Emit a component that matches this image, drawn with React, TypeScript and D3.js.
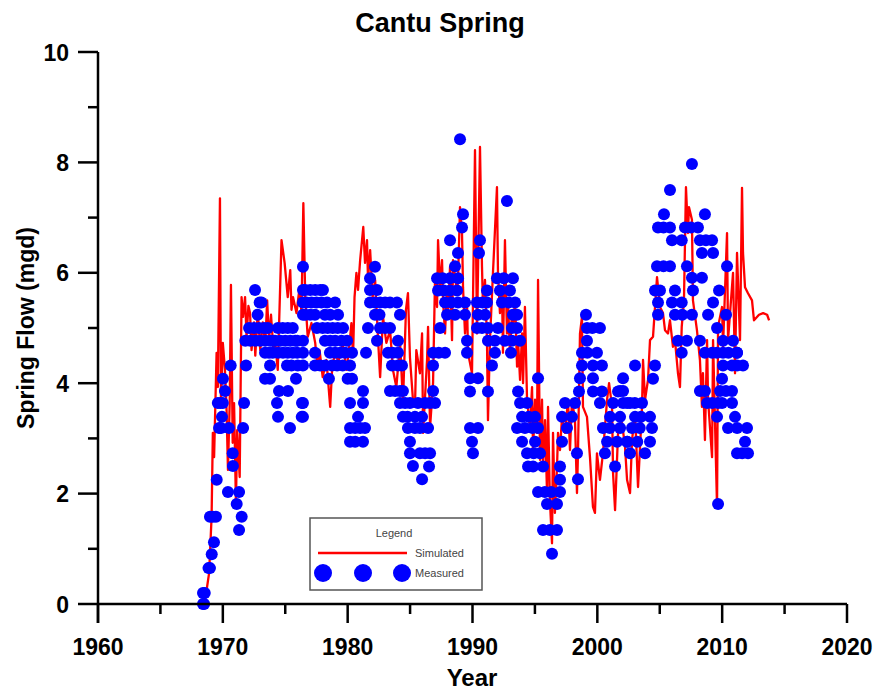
import React from "react";
import * as d3 from "d3";

const xTickLabels = ["1960", "1970", "1980", "1990", "2000", "2010", "2020"];
const yTickLabels = ["0", "2", "4", "6", "8", "10"];

const simYears = [
  1968.41, 1968.6, 1968.9, 1969.1, 1969.2, 1969.3, 1969.5, 1969.6, 1969.77, 1969.85, 1970.0, 1970.17, 1970.3, 1970.41,
  1970.55, 1970.65, 1970.79, 1970.9, 1971.05, 1971.15, 1971.35, 1971.5, 1971.62, 1971.78, 1971.9, 1972.05, 1972.18,
  1972.3, 1972.5, 1972.6, 1972.8, 1973.0, 1973.2, 1973.4, 1973.55, 1973.7, 1973.86, 1974.05, 1974.2, 1974.4, 1974.7,
  1974.95, 1975.2, 1975.4, 1975.5, 1975.62, 1975.9, 1976.15, 1976.3, 1976.45, 1976.6, 1976.8, 1977.1, 1977.4,
  1977.6, 1977.75, 1978.0, 1978.3, 1978.6, 1978.75, 1979.0, 1979.25, 1979.6, 1979.9, 1980.1, 1980.3, 1980.43, 1980.55,
  1980.7, 1980.83, 1981.0, 1981.25, 1981.39, 1981.55, 1981.63, 1981.8, 1982.0, 1982.2, 1982.45, 1982.6, 1982.83,
  1983.1, 1983.4, 1983.63, 1983.9, 1984.2, 1984.43, 1984.67, 1984.83, 1984.99, 1985.1, 1985.23, 1985.4, 1985.5,
  1985.79, 1985.96, 1986.04, 1986.36, 1986.44, 1986.6, 1986.84, 1987.0, 1987.16, 1987.24, 1987.4, 1987.56, 1987.64,
  1987.8, 1987.96, 1988.04, 1988.2, 1988.36, 1988.44, 1988.76, 1988.84, 1989.0, 1989.16, 1989.24, 1989.4, 1989.56,
  1989.64, 1989.96, 1990.04, 1990.2, 1990.36, 1990.6, 1990.76, 1990.84, 1991.0, 1991.16, 1991.24, 1991.4, 1991.64,
  1991.96, 1992.04, 1992.2, 1992.36, 1992.44, 1992.6, 1992.76, 1992.84, 1993.0, 1993.16, 1993.24, 1993.41, 1993.57,
  1993.65, 1993.81, 1993.97, 1994.05, 1994.2, 1994.37, 1994.6, 1994.77, 1994.85, 1995.01, 1995.17, 1995.25, 1995.41,
  1995.57, 1995.65, 1995.81, 1995.97, 1996.05, 1996.2, 1996.37, 1996.45, 1996.6, 1996.77, 1996.85, 1997.01, 1997.17,
  1997.41, 1997.65, 1997.81, 1997.97, 1998.21, 1998.37, 1998.45, 1998.61, 1998.77, 1998.85, 1999.17, 1999.41, 1999.65,
  1999.81, 1999.97, 2000.21, 2000.45, 2000.78, 2000.94, 2001.18, 2001.26, 2001.42, 2001.66, 2001.98, 2002.22, 2002.38,
  2002.62, 2002.78, 2003.02, 2003.26, 2003.58, 2003.66, 2003.82, 2004.06, 2004.22, 2004.46, 2004.78, 2005.02, 2005.26,
  2005.42, 2005.66, 2005.82, 2006.06, 2006.22, 2006.46, 2006.62, 2006.76, 2006.94, 2007.1, 2007.26, 2007.34, 2007.58,
  2007.66, 2007.98, 2008.22, 2008.38, 2008.46, 2008.62, 2008.79, 2008.87, 2009.19, 2009.27, 2009.59, 2009.67, 2009.99,
  2010.07, 2010.39, 2010.47, 2010.87, 2011.03, 2011.19, 2011.43, 2011.59, 2011.67, 2011.83, 2012.07, 2012.39, 2012.55,
  2012.95, 2013.28, 2013.6, 2013.76,
];
const simValues = [
  0, 0.1, 0.56, 1.58, 3.1, 2.66, 4.55, 3.93, 7.35, 3.64, 4.73, 4.24, 3.51, 2.43,
  3.64, 5.78, 2.92, 3.64, 1.83, 3.15, 2.3, 5.56, 5.2, 5.56, 4.84, 5.4, 5.27,
  4.6, 5.1, 4.5, 5.3, 4.6, 5.1, 4.7, 5.5, 4.8, 5.24, 4.6, 4.73, 4.24, 6.59,
  6.18, 5.56, 6.05, 5.33, 5.56, 5.27, 5.74, 5.27, 7.26, 5.56, 4.84, 5.09, 4.73,
  4.24, 4.6, 4.11, 4.42, 3.57, 4.24, 4.6, 4.37, 4.73, 4.24, 4.6, 5.09, 4.47, 5.56,
  6.0, 5.69, 6.23, 6.83, 6.18, 6.59, 5.87, 6.41, 5.56, 5.87, 4.73, 4.11, 5.2,
  4.73, 4.96, 4.24, 3.93, 4.73, 3.64, 5.33, 5.63, 4.47, 4.11, 3.7, 3.64, 4.6,
  4.18, 4.9, 3.1, 4.42, 5.02, 3.2, 4.0, 5.92, 5.38, 6.59, 5.74, 6.23, 5.5,
  4.9, 5.74, 5.27, 6.11, 4.78, 6.23, 5.63, 5.87, 7.19, 6.72, 5.74, 4.9, 5.5,
  4.55, 4.18, 5.5, 8.22, 4.9, 8.28, 6.11, 5.38, 5.87, 4.78, 3.33, 4.78, 6.0,
  7.55, 6.0, 5.27, 5.74, 4.55, 6.59, 4.9, 5.5, 4.55, 5.27, 5.02, 5.5, 4.3,
  4.78, 4.06, 4.9, 4.0, 5.38, 3.7, 3.2, 3.93, 2.79, 3.7, 3.1, 5.87, 2.61,
  3.7, 2.48, 3.33, 2.01, 3.57, 1.88, 1.1, 3.1, 1.65, 2.48, 3.1, 2.79, 3.39,
  3.1, 3.7, 2.79, 3.7, 3.33, 2.01, 2.73, 4.9, 5.2, 3.57, 3.39, 2.66, 1.76,
  1.65, 2.73, 2.25, 2.73, 3.7, 4.0, 3.57, 2.37, 1.7, 3.1, 3.28, 2.84, 2.25,
  2.01, 2.97, 3.46, 2.12, 3.57, 4.42, 3.7, 4.06, 4.78, 4.84, 5.92, 5.38, 5.27,
  4.96, 4.9, 5.14, 4.66, 4.78, 4.18, 3.93, 5.02, 5.5, 7.55, 6.72, 7.19, 6.96,
  5.5, 4.96, 4.42, 3.57, 4.18, 2.97, 4.78, 3.7, 2.66, 4.78, 1.76, 5.02, 5.38,
  4.66, 6.72, 4.78, 6.0, 4.18, 6.36, 4.78, 7.54, 6.36, 5.74, 5.63, 5.5, 5.14,
  5.24, 5.27, 5.24, 5.14,
];

const measYears = [
  1968.41, 1968.5, 1968.41, 1968.55, 1968.85, 1968.97, 1969.11, 1969.29, 1968.97, 1969.2, 1969.45, 1969.51, 1969.7, 1969.85,
  1969.93, 1969.6, 1969.8, 1970.0, 1970.17, 1970.01, 1970.63, 1970.49, 1970.79, 1970.81, 1970.41, 1971.11, 1971.3, 1971.51,
  1971.3, 1971.62, 1971.7, 1971.86,
  1972.58, 1972.79, 1972.95, 1973.1, 1972.1, 1972.5, 1972.9, 1973.3, 1973.6, 1971.8, 1972.2, 1972.6, 1973.0, 1973.4, 1973.8,
  1974.02, 1973.38, 1973.7, 1974.0, 1974.42, 1973.78, 1973.38, 1973.78, 1974.5, 1974.34, 1974.42, 1975.38, 1975.22, 1974.42,
  1974.8, 1975.2, 1975.6, 1974.18, 1974.6, 1975.0, 1975.4, 1975.8, 1975.96, 1974.82, 1975.2, 1975.6, 1975.96, 1975.14, 1975.5,
  1976.0, 1975.86, 1976.34, 1976.32, 1976.42, 1976.42, 1976.42, 1976.42,
  1976.6, 1977.0, 1977.4, 1977.8, 1978.02, 1976.7, 1977.1, 1977.5, 1977.9, 1978.35, 1978.99, 1976.6, 1977.0, 1977.38, 1978.18,
  1978.6, 1979.23, 1977.54, 1978.0, 1978.4, 1978.8, 1979.2, 1979.63, 1978.18, 1978.6, 1979.0, 1979.5, 1979.95, 1978.58, 1979.0,
  1979.4, 1979.8, 1980.35, 1979.15, 1979.6, 1980.19, 1977.38, 1977.38, 1977.8, 1978.2, 1978.75, 1978.5, 1976.42, 1976.42,
  1976.42, 1976.42, 1976.42, 1980.0, 1980.35, 1980.19, 1981.23, 1981.23, 1980.83, 1980.19, 1980.6, 1981.0, 1981.39, 1980.19,
  1980.6, 1981.23, 1981.47, 1981.63, 1982.19, 1981.79, 1981.79, 1982.35, 1981.79, 1982.2, 1982.6, 1983.0, 1983.39, 1983.95,
  1982.19, 1982.55, 1982.59, 1983.0, 1983.39, 1982.35, 1983.23, 1983.6, 1984.03, 1983.55, 1984.03, 1984.19, 1984.03, 1983.39,
  1983.8, 1984.19, 1984.19, 1984.6, 1984.99, 1984.43, 1984.8, 1985.39, 1984.83, 1985.39, 1984.99, 1984.99, 1985.23,
  1984.35, 1984.43, 1985.96, 1985.79, 1985.96, 1985.79, 1986.2, 1986.6, 1986.52, 1985.63, 1986.2, 1986.44, 1986.84, 1986.6,
  1987.0, 1986.84, 1986.84, 1987.3, 1987.8, 1987.4, 1987.16, 1987.6, 1988.2, 1987.24, 1987.7, 1988.2, 1988.76, 1987.8, 1988.3,
  1988.84, 1987.96, 1988.6, 1988.2, 1988.6, 1988.84, 1988.84, 1989.0, 1989.24, 1989.16, 1989.4, 1989.4, 1989.56, 1989.56,
  1989.8, 1990.44, 1989.8, 1989.8, 1990.44, 1989.96, 1990.04, 1990.6, 1990.52, 1990.36, 1990.8, 1991.16, 1990.44, 1991.0,
  1990.36, 1990.76, 1991.16, 1991.24, 1991.8, 1992.6, 1991.8, 1991.56, 1991.24, 1991.24, 1992.04, 1992.76, 1991.96, 1992.5,
  1993.24, 1992.2, 1993.0, 1992.36, 1992.9, 1993.41, 1993.24, 1993.57, 1993.16, 1993.57, 1993.16, 1993.81, 1993.08, 1993.65,
  1993.81, 1994.37, 1993.97, 1994.5, 1995.01, 1993.57, 1994.2, 1994.8, 1995.25, 1993.97, 1995.01, 1994.37, 1994.9, 1995.41,
  1994.45, 1994.85, 1995.65, 1995.25, 1995.25, 1995.8, 1996.3, 1997.01, 1995.97, 1996.77, 1995.65, 1996.2, 1996.77, 1996.37,
  1997.01, 1997.01, 1997.17, 1997.57, 1997.17, 1997.97, 1997.41, 1998.21, 1998.37, 1998.45, 1998.53, 1998.61, 1998.77,
  1998.77, 1999.2, 1999.97, 1999.17, 1999.17, 1999.6, 2000.21, 1999.09, 1999.65, 2000.37, 1999.65, 1999.65, 2000.37, 2000.21,
  2001.26, 2000.45, 2001.0, 2001.82, 2000.78, 2001.58, 2000.61, 2001.42, 2001.02, 2001.82, 2001.66, 2002.06, 2002.06, 2002.62,
  2002.38,
  2003.02, 2003.02, 2003.5, 2004.22, 2002.78, 2003.4, 2004.38, 2002.4, 2003.2, 2004.22, 2002.62, 2003.82, 2002.38, 2003.0,
  2003.58, 2001.82, 2002.06, 2004.46, 2004.62, 2004.62, 2005.02, 2004.86, 2004.86, 2004.78, 2005.3, 2005.82, 2004.86, 2005.3,
  2005.82, 2005.34, 2005.82, 2005.98, 2006.76, 2006.22, 2005.98, 2006.76, 2006.22, 2006.8, 2007.58, 2006.46, 2007.18, 2006.76,
  2007.58, 2007.02, 2007.5, 2008.06, 2007.18, 2007.58, 2008.38, 2007.66, 2008.22, 2008.22, 2008.62, 2008.62, 2008.22, 2008.7,
  2009.19, 2008.38, 2009.27, 2008.87, 2009.27, 2009.75, 2008.62, 2009.2, 2009.59, 2008.79, 2009.2, 2009.67, 2009.59, 2009.59,
  2009.67, 2010.39, 2010.31, 2010.07, 2010.07, 2010.5, 2011.19, 2010.07, 2009.99, 2009.83, 2010.3, 2010.79, 2009.99, 2010.79,
  2010.87, 2011.19, 2010.79, 2011.2, 2011.67, 2011.03, 2010.47, 2011.2, 2011.99, 2011.83, 2011.19, 2011.6, 2012.07,
];
const measValues = [
  0, 0, 0.2, 0.2, 0.65, 0.65, 0.9, 1.12, 1.58, 1.58, 1.58, 2.25, 3.19, 3.19,
  3.39, 3.64, 3.64, 3.64, 3.86, 4.08, 4.32, 3.19, 2.73, 2.5, 2.03, 1.81, 2.03, 1.58,
  1.34, 3.19, 3.64, 4.32,
  5.69, 5.24, 5.46, 5.46, 5.0, 5.0, 5.0, 5.0, 5.0, 4.77, 4.77, 4.77, 4.77, 4.77, 4.77,
  4.77, 4.55, 4.55, 4.55, 4.55, 4.32, 4.08, 4.08, 3.86, 3.64, 3.39, 3.19, 3.86, 5.0,
  5.0, 5.0, 5.0, 4.77, 4.77, 4.77, 4.77, 4.77, 4.77, 4.55, 4.55, 4.55, 4.55, 4.32, 4.32,
  4.32, 4.08, 3.64, 3.39, 6.11, 5.69, 5.46, 5.24,
  5.69, 5.69, 5.69, 5.69, 5.69, 5.46, 5.46, 5.46, 5.46, 5.46, 5.46, 5.24, 5.24, 5.24, 5.24,
  5.24, 5.24, 5.0, 5.0, 5.0, 5.0, 5.0, 5.0, 4.77, 4.77, 4.77, 4.77, 4.77, 4.55, 4.55,
  4.55, 4.55, 4.55, 4.32, 4.32, 4.32, 4.55, 4.32, 4.32, 4.32, 4.32, 4.08, 4.77, 4.55,
  4.32, 3.64, 3.39, 4.08, 4.08, 3.64, 3.86, 3.64, 3.39, 3.19, 3.19, 3.19, 3.19, 2.94,
  2.94, 2.94, 4.55, 5.0, 6.11, 5.9, 5.69, 5.69, 5.46, 5.46, 5.46, 5.46, 5.46, 5.46,
  5.24, 5.24, 5.0, 5.0, 5.0, 4.77, 4.55, 4.55, 4.55, 4.32, 4.32, 5.24, 4.77, 3.86,
  3.86, 3.86, 3.64, 3.64, 3.64, 3.39, 3.39, 3.39, 3.19, 3.19, 2.94, 2.73, 2.5,
  4.32, 3.86, 3.39, 3.19, 2.26, 2.73, 2.73, 2.73, 2.49, 3.64, 3.64, 3.19, 4.32, 3.64,
  3.64, 3.86, 4.55, 4.55, 4.55, 5.0, 5.9, 5.9, 5.9, 5.68, 5.68, 5.68, 5.68, 5.46, 5.46,
  5.46, 5.24, 5.24, 6.59, 6.12, 5.9, 6.36, 8.42, 7.06, 6.82, 5.46, 5.24, 4.77, 4.55,
  4.09, 4.09, 3.85, 3.19, 3.19, 2.94, 2.73, 6.59, 6.36, 5.46, 5.46, 5.46, 5.24, 5.24,
  5.0, 5.0, 5.68, 4.77, 4.77, 4.77, 4.55, 4.32, 3.85, 5.0, 5.0, 7.3, 5.9, 5.9,
  5.9, 5.68, 5.68, 5.46, 5.46, 5.46, 5.24, 5.24, 5.0, 5.0, 4.77, 4.77, 4.55, 3.85,
  3.64, 3.64, 3.39, 3.39, 3.39, 3.19, 3.19, 3.19, 3.19, 2.94, 2.94, 2.73, 2.73, 2.73,
  2.49, 2.49, 2.49, 4.09, 2.03, 2.03, 2.03, 2.03, 1.81, 1.81, 1.34, 1.34, 1.34, 0.91,
  2.49, 2.25, 2.94, 3.19, 3.39, 3.39, 3.64, 3.64, 2.73, 2.26, 3.85, 4.09, 4.32,
  4.55, 4.55, 4.55, 4.77, 5.0, 5.0, 5.0, 5.24, 4.32, 4.32, 4.09, 3.85, 3.85, 3.64,
  3.64, 3.19, 3.19, 3.19, 2.94, 2.94, 2.73, 2.49, 3.39, 3.39, 3.85, 4.09, 3.64, 3.64,
  2.94,
  4.32, 3.39, 3.39, 3.39, 3.19, 3.19, 3.19, 2.94, 2.94, 2.94, 2.73, 2.73, 3.64, 3.64,
  3.64, 3.86, 3.86, 4.08, 4.32, 5.68, 5.68, 5.46, 5.24, 6.12, 6.12, 6.12, 6.82, 6.82,
  6.82, 7.06, 7.5, 6.59, 6.59, 5.68, 5.46, 5.46, 5.24, 5.24, 5.24, 4.77, 4.77, 4.55,
  7.97, 6.82, 6.82, 6.82, 6.12, 5.91, 5.91, 5.68, 4.77, 3.86, 3.86, 7.06, 6.59, 6.59,
  6.59, 6.36, 6.36, 5.24, 5.46, 5.68, 4.55, 4.55, 4.55, 3.64, 3.64, 3.64, 5.0, 3.39,
  1.81, 6.12, 5.24, 4.77, 4.55, 4.55, 4.55, 4.32, 4.08, 3.86, 3.86, 3.86, 3.64, 3.64,
  4.77, 4.55, 4.32, 4.32, 4.32, 3.39, 3.19, 3.19, 3.19, 2.94, 2.73, 2.73, 2.73,
];

const W = 878;
const H = 692;
const X0 = 98, X1 = 847, Y0 = 604, Y1 = 52;

export default function App() {
  const x = d3.scaleLinear().domain([1960, 2020]).range([X0, X1]);
  const y = d3.scaleLinear().domain([0, 10]).range([Y0, Y1]);
  const sim = simYears.map((t, i) => [t, simValues[i]] as [number, number]);
  const meas = measYears.map((t, i) => [t, measValues[i]] as [number, number]);
  const line = d3.line<[number, number]>().x((d) => x(d[0])).y((d) => y(d[1]));
  const xMajor = xTickLabels.map(Number);
  const xMinor = d3.range(1965, 2020, 10);
  const yMajor = yTickLabels.map(Number);
  const yMinor = d3.range(1, 10, 2);
  const font = "Liberation Sans, Arial, sans-serif";
  return (
    <div style={{ position: "absolute", left: 0, top: 0 }}>
      <svg width={W} height={H} style={{ display: "block", background: "#fff" }} fontFamily={font}>
        <text x={440} y={32} textAnchor="middle" fontSize={27} fontWeight="bold">Cantu Spring</text>
        <path d={line(sim) || ""} fill="none" stroke="#ff0000" strokeWidth={2.3} strokeLinejoin="round" />
        {meas.map((d, i) => (
          <circle key={i} cx={x(d[0])} cy={y(d[1])} r={6} fill="#0000ff" />
        ))}
        <line x1={X0} x2={X0} y1={Y1} y2={Y0 + 19} stroke="#000" strokeWidth={2.5} />
        <line x1={X0} x2={X1} y1={Y0} y2={Y0} stroke="#000" strokeWidth={2.5} />
        {yMajor.map((v) => (
          <g key={"ym" + v}>
            <line x1={X0 - 20} x2={X0} y1={y(v)} y2={y(v)} stroke="#000" strokeWidth={2.5} />
            <text x={X0 - 29} y={y(v) + 8.5} textAnchor="end" fontSize={23} fontWeight="bold">{v}</text>
          </g>
        ))}
        {yMinor.map((v) => (
          <line key={"yn" + v} x1={X0 - 10} x2={X0} y1={y(v)} y2={y(v)} stroke="#000" strokeWidth={2.5} />
        ))}
        {xMajor.map((v) => (
          <g key={"xm" + v}>
            <line x1={x(v)} x2={x(v)} y1={Y0} y2={Y0 + 19} stroke="#000" strokeWidth={2.5} />
            <text x={x(v)} y={Y0 + 51} textAnchor="middle" fontSize={23} fontWeight="bold">{v}</text>
          </g>
        ))}
        {xMinor.map((v) => (
          <line key={"xn" + v} x1={x(v)} x2={x(v)} y1={Y0} y2={Y0 + 10} stroke="#000" strokeWidth={2.5} />
        ))}
        <text x={472} y={686} textAnchor="middle" fontSize={24} fontWeight="bold">Year</text>
        <text transform="translate(34,328) rotate(-90)" textAnchor="middle" fontSize={23} fontWeight="bold">Spring Flow (mgd)</text>
        <g>
          <rect x={310} y={518} width={172} height={72} fill="#fff" stroke="#555" strokeWidth={1.5} />
          <text x={394} y={537} textAnchor="middle" fontSize={11} fill="#444">Legend</text>
          <line x1={318} x2={407} y1={553} y2={553} stroke="#ff0000" strokeWidth={2.5} />
          <text x={415} y={557} fontSize={11} fill="#444">Simulated</text>
          {[323, 363, 402].map((cx) => (
            <circle key={cx} cx={cx} cy={573} r={9} fill="#0000ff" />
          ))}
          <text x={415} y={577} fontSize={11} fill="#444">Measured</text>
        </g>
      </svg>
    </div>
  );
}
